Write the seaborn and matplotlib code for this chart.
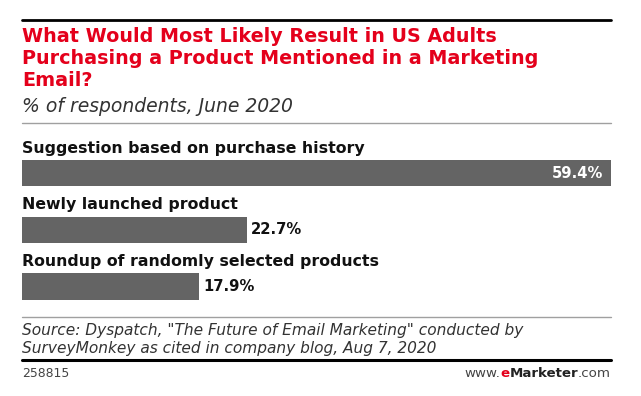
import matplotlib
matplotlib.use("Agg")
import matplotlib.pyplot as plt
import seaborn as sns
import pandas as pd
from matplotlib.lines import Line2D

# ---- data ----
categories = ["Suggestion based on purchase history",
              "Newly launched product",
              "Roundup of randomly selected products"]
values = [59.4, 22.7, 17.9]
value_labels = ["59.4%", "22.7%", "17.9%"]

title_lines = ["What Would Most Likely Result in US Adults",
               "Purchasing a Product Mentioned in a Marketing",
               "Email?"]
subtitle = "% of respondents, June 2020"
source_lines = ['Source: Dyspatch, "The Future of Email Marketing" conducted by',
                'SurveyMonkey as cited in company blog, Aug 7, 2020']
chart_id = "258815"

W, H = 641, 396
sns.set_theme(style="white")
plt.rcParams['font.family'] = ['DejaVu Sans']

fig = plt.figure(figsize=(W / 100, H / 100), dpi=100)
fig.patch.set_facecolor("white")

def fy(px):
    return 1 - px / H

def fx(px):
    return px / W

RED = "#e4001b"
BAR = "#646464"
LEFT, RIGHT = 22, 611

# ---- bars ----
top_px, bot_px = 130, 310
c0, step = 173, 56.75
ax = fig.add_axes([fx(LEFT), fy(bot_px), (RIGHT - LEFT) / W, (bot_px - top_px) / H])
df = pd.DataFrame({"category": categories, "value": values})
sns.barplot(data=df, x="value", y="category", orient="h", color=BAR,
            saturation=1, width=26.5 / step, ax=ax, linewidth=0)
ax.set_xlim(0, values[0])
ax.set_ylim((bot_px - c0) / step, (top_px - c0) / step)
ax.axis("off")

for i, (cat, v, lab) in enumerate(zip(categories, values, value_labels)):
    ax.text(0, i - 20.5 / step, cat, ha="left", va="baseline",
            fontsize=11.3, fontweight="bold", color="#111111")
    if i == 0:
        ax.annotate(lab, xy=(v, i), xytext=(-5.5, 0), textcoords="offset points",
                    ha="right", va="center", fontsize=10.6, fontweight="bold",
                    color="white")
    else:
        ax.annotate(lab, xy=(v, i), xytext=(2.5, 0), textcoords="offset points",
                    ha="left", va="center", fontsize=10.6, fontweight="bold",
                    color="#111111")

# ---- header ----
fig.add_artist(Line2D([fx(LEFT), fx(RIGHT)], [fy(20), fy(20)], color="black", lw=2.0))
for k, t in enumerate(title_lines):
    fig.text(fx(LEFT), fy(41.5 + 22.5 * k), t, ha="left", va="baseline",
             fontsize=13.8, fontweight="bold", color=RED)
fig.text(fx(LEFT), fy(112), subtitle, ha="left", va="baseline",
         fontsize=13.5, style="italic", color="#333333")
fig.add_artist(Line2D([fx(LEFT), fx(RIGHT)], [fy(122.5), fy(122.5)], color="#a0a0a0", lw=1.0))

# ---- footer ----
fig.add_artist(Line2D([fx(LEFT), fx(RIGHT)], [fy(317), fy(317)], color="#a0a0a0", lw=1.0))
for k, t in enumerate(source_lines):
    fig.text(fx(LEFT), fy(334.5 + 18 * k), t, ha="left", va="baseline",
             fontsize=11.1, style="italic", color="#333333")
fig.add_artist(Line2D([fx(LEFT), fx(RIGHT)], [fy(360), fy(360)], color="black", lw=2.2))
fig.text(fx(LEFT), fy(377), chart_id, ha="left", va="baseline", fontsize=8.9, color="#444444")

renderer = fig.canvas.get_renderer()
pieces = [(".com", "normal", "#444444"), ("Marketer", "bold", "#222222"),
          ("e", "bold", RED), ("www.", "normal", "#444444")]
xr = fx(RIGHT)
for txt, wt, col in pieces:
    t = fig.text(xr, fy(377), txt, ha="right", va="baseline", fontsize=9.6,
                 fontweight=wt, color=col)
    bb = t.get_window_extent(renderer=renderer)
    xr -= bb.width / W

fig.savefig("out.png", dpi=100, facecolor="white")
